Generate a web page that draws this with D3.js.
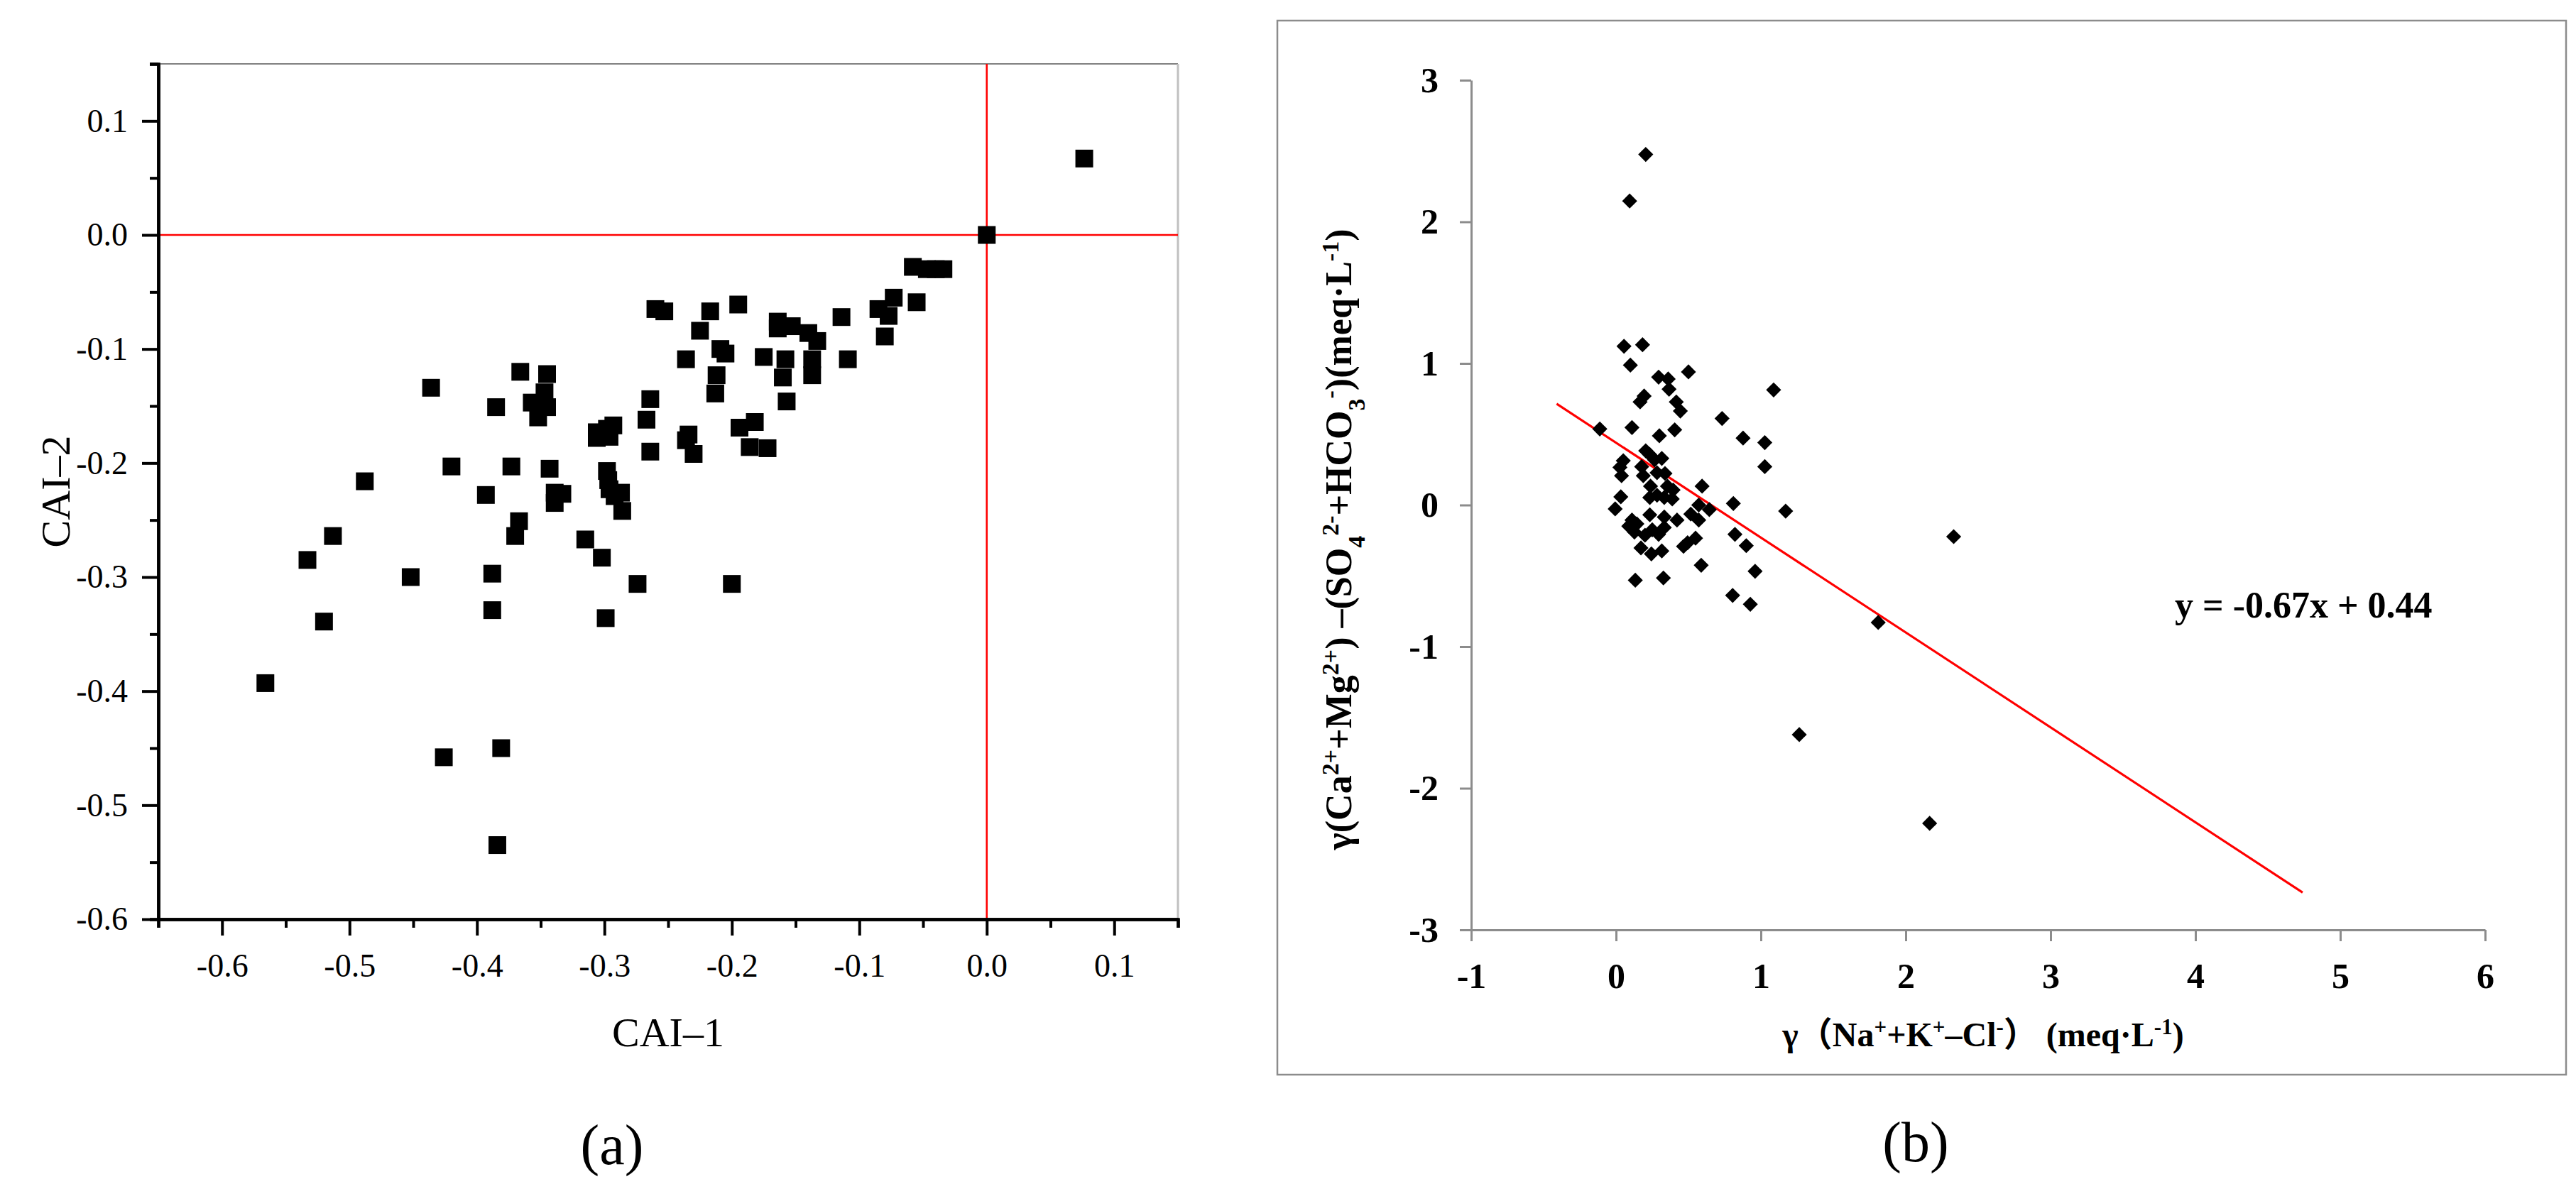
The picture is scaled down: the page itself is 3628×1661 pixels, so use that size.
<!DOCTYPE html>
<html>
<head>
<meta charset="utf-8">
<script src="https://cdn.jsdelivr.net/npm/d3@7"></script>
<style>
  html, body { margin: 0; padding: 0; background: #fff; }
  svg { display: block; }
</style>
</head>
<body>
<svg id="chart" width="3628" height="1661"></svg>
<script>
// ---------- Panel (a) data: CAI-1 vs CAI-2 ----------
const caiX = [0.0765, 0, -0.058, -0.047, -0.034, -0.040, -0.055, -0.073, -0.085, -0.077,
  -0.080, -0.114, -0.109, -0.137, -0.137, -0.133, -0.140, -0.153, -0.164, -0.164,
  -0.158, -0.160, -0.157, -0.175, -0.195, -0.217, -0.225, -0.209, -0.205, -0.236,
  -0.212, -0.213, -0.182, -0.194, -0.186, -0.172, -0.234, -0.236, -0.230, -0.260,
  -0.253, -0.264, -0.267, -0.264, -0.293, -0.298, -0.306, -0.306, -0.296, -0.298,
  -0.297, -0.296, -0.287, -0.292, -0.286, -0.315, -0.302, -0.274, -0.299, -0.200,
  -0.345, -0.366, -0.347, -0.357, -0.345, -0.352, -0.385, -0.436, -0.343, -0.373,
  -0.339, -0.333, -0.339, -0.367, -0.370, -0.393, -0.420, -0.488, -0.513, -0.533,
  -0.452, -0.388, -0.388, -0.520, -0.566, -0.426, -0.381, -0.384];
const caiY = [0.067, 0, -0.028, -0.030, -0.030, -0.030, -0.059, -0.055, -0.065, -0.071,
  -0.089, -0.072, -0.109, -0.109, -0.123, -0.093, -0.086, -0.080, -0.076, -0.082,
  -0.109, -0.125, -0.146, -0.107, -0.061, -0.067, -0.084, -0.100, -0.104, -0.109,
  -0.123, -0.139, -0.164, -0.169, -0.186, -0.187, -0.175, -0.180, -0.192, -0.065,
  -0.067, -0.144, -0.162, -0.190, -0.167, -0.170, -0.173, -0.178, -0.177, -0.207,
  -0.215, -0.223, -0.226, -0.229, -0.242, -0.267, -0.283, -0.306, -0.336, -0.306,
  -0.122, -0.120, -0.138, -0.147, -0.151, -0.160, -0.151, -0.134, -0.205, -0.203,
  -0.226, -0.227, -0.235, -0.251, -0.264, -0.228, -0.203, -0.216, -0.264, -0.285,
  -0.300, -0.297, -0.329, -0.339, -0.393, -0.458, -0.450, -0.535];
const caiXTicks = [-0.6, -0.5, -0.4, -0.3, -0.2, -0.1, 0.0, 0.1];
const caiXTickLabels = ["-0.6", "-0.5", "-0.4", "-0.3", "-0.2", "-0.1", "0.0", "0.1"];
const caiYTicks = [-0.6, -0.5, -0.4, -0.3, -0.2, -0.1, 0.0, 0.1];
const caiYTickLabels = ["-0.6", "-0.5", "-0.4", "-0.3", "-0.2", "-0.1", "0.0", "0.1"];
const caiXMinor = [-0.65, -0.55, -0.45, -0.35, -0.25, -0.15, -0.05, 0.05, 0.15];
const caiYMinor = [-0.55, -0.45, -0.35, -0.25, -0.15, -0.05, 0.05, 0.15];

// ---------- Panel (b) data ----------
const ionX = [0.205, 0.094, 0.055, 0.183, 0.099, 0.294, 0.360, 0.500, 0.366, 0.194,
  0.166, 0.416, 0.444, 1.088, 0.732, -0.112, 0.110, 0.299, 0.405, 0.877,
  1.027, 1.027, 0.205, 0.233, 0.266, 0.316, 0.050, 0.027, 0.038, 0.177,
  0.188, 0.283, 0.338, 0.355, 0.238, 0.394, 0.283, 0.233, 0.333, 0.388,
  0.594, 0.033, -0.006, 0.810, 0.644, 0.571, 0.516, 1.171, 0.233, 0.333,
  0.421, 0.571, 0.110, 0.144, 0.088, 0.127, 0.250, 0.294, 0.333, 0.200,
  0.549, 0.494, 0.466, 0.821, 0.899, 0.172, 0.244, 0.316, 0.960, 0.588,
  0.133, 0.327, 0.805, 0.927, 2.331, 1.810, 1.265, 2.165];
const ionY = [2.476, 2.147, 1.121, 1.132, 0.988, 0.903, 0.890, 0.940, 0.818, 0.770,
  0.728, 0.728, 0.664, 0.813, 0.611, 0.537, 0.547, 0.489, 0.531, 0.473,
  0.441, 0.271, 0.383, 0.356, 0.319, 0.329, 0.313, 0.266, 0.207, 0.271,
  0.207, 0.228, 0.223, 0.133, 0.133, 0.106, 0.069, 0.053, 0.053, 0.043,
  0.133, 0.058, -0.027, 0.011, -0.032, 0.000, -0.064, -0.043, -0.069, -0.085,
  -0.106, -0.106, -0.106, -0.133, -0.149, -0.191, -0.175, -0.207, -0.159, -0.213,
  -0.234, -0.266, -0.292, -0.207, -0.287, -0.303, -0.345, -0.324, -0.468, -0.425,
  -0.531, -0.515, -0.638, -0.701, -0.223, -0.829, -1.621, -2.248];
const ionXTicks = [-1, 0, 1, 2, 3, 4, 5, 6];
const ionXTickLabels = ["-1", "0", "1", "2", "3", "4", "5", "6"];
const ionYTicks = [-3, -2, -1, 0, 1, 2, 3];
const ionYTickLabels = ["-3", "-2", "-1", "0", "1", "2", "3"];
const fitSlope = -0.67;
const fitIntercept = 0.44;
const fitRange = [-0.41, 4.74];
const fitLabel = "y = -0.67x + 0.44";

// ---------- Drawing ----------
const svg = d3.select("#chart");
svg.append("rect").attr("width", 3628).attr("height", 1661).attr("fill", "#fff");

const SERIF = "'Liberation Serif', 'Times New Roman', 'DejaVu Serif', serif";

// ===== Panel (a) =====
const ax = d3.scaleLinear().domain([-0.65, 0.15]).range([223, 1659]);
const ay = d3.scaleLinear().domain([-0.6, 0.15]).range([1295, 90]);
const ga = svg.append("g");

ga.append("line").attr("x1", ax(-0.65)).attr("x2", ax(0.15)).attr("y1", ay(0.15)).attr("y2", ay(0.15))
  .attr("stroke", "#808080").attr("stroke-width", 2);
ga.append("line").attr("x1", ax(0.15)).attr("x2", ax(0.15)).attr("y1", ay(0.15)).attr("y2", ay(-0.6))
  .attr("stroke", "#c0c0c0").attr("stroke-width", 3);

ga.append("line").attr("x1", ax(-0.65)).attr("x2", ax(0.15)).attr("y1", ay(0)).attr("y2", ay(0))
  .attr("stroke", "#ff0000").attr("stroke-width", 2.6);
ga.append("line").attr("x1", ax(0)).attr("x2", ax(0)).attr("y1", ay(0.15)).attr("y2", ay(-0.6))
  .attr("stroke", "#ff0000").attr("stroke-width", 2.6);

const axMinor = ga.append("g").attr("transform", `translate(0,${ay(-0.6)})`)
  .call(d3.axisBottom(ax).tickValues(caiXMinor).tickSize(12).tickFormat(""));
const ayMinor = ga.append("g").attr("transform", `translate(${ax(-0.65)},0)`)
  .call(d3.axisLeft(ay).tickValues(caiYMinor).tickSize(12).tickFormat(""));
const axG = ga.append("g").attr("transform", `translate(0,${ay(-0.6)})`)
  .call(d3.axisBottom(ax).tickValues(caiXTicks).tickSize(23).tickSizeOuter(0).tickPadding(25)
    .tickFormat((d, i) => caiXTickLabels[i]));
const ayG = ga.append("g").attr("transform", `translate(${ax(-0.65)},0)`)
  .call(d3.axisLeft(ay).tickValues(caiYTicks).tickSize(23).tickSizeOuter(0).tickPadding(20)
    .tickFormat((d, i) => caiYTickLabels[i]));
[axMinor, ayMinor, axG, ayG].forEach(g => {
  g.attr("font-family", SERIF);
  g.selectAll("path.domain").attr("stroke", "#000").attr("stroke-width", 4.5);
  g.selectAll(".tick line").attr("stroke", "#000").attr("stroke-width", 4);
  g.selectAll("text").attr("font-family", SERIF).attr("font-size", 46).attr("fill", "#000");
});

ga.append("g").selectAll("path").data(caiX.map((x, i) => [x, caiY[i]])).join("path")
  .attr("d", d3.symbol(d3.symbolSquare, 625))
  .attr("transform", d => `translate(${ax(d[0])},${ay(d[1])})`)
  .attr("fill", "#000");

ga.append("text").attr("x", (ax(-0.65) + ax(0.15)) / 2).attr("y", 1474)
  .attr("text-anchor", "middle").attr("font-family", SERIF).attr("font-size", 58).text("CAI\u20131");
ga.append("text").attr("transform", `translate(98,${(ay(0.15) + ay(-0.6)) / 2}) rotate(-90)`)
  .attr("text-anchor", "middle").attr("font-family", SERIF).attr("font-size", 58).text("CAI\u20132");
ga.append("text").attr("x", 862).attr("y", 1640).attr("text-anchor", "middle")
  .attr("font-family", SERIF).attr("font-size", 80).text("(a)");

// ===== Panel (b) =====
const bx = d3.scaleLinear().domain([-1, 6]).range([2072, 3500]);
const by = d3.scaleLinear().domain([-3, 3]).range([1310, 113]);
const gb = svg.append("g");

gb.append("rect").attr("x", 1799).attr("y", 29).attr("width", 3614 - 1799).attr("height", 1514 - 29)
  .attr("fill", "none").attr("stroke", "#8c8c8c").attr("stroke-width", 2.5);

const bxG = gb.append("g").attr("transform", `translate(0,${by(-3)})`)
  .call(d3.axisBottom(bx).tickValues(ionXTicks).tickSize(16).tickSizeOuter(0).tickPadding(30)
    .tickFormat((d, i) => ionXTickLabels[i]));
const byG = gb.append("g").attr("transform", `translate(${bx(-1)},0)`)
  .call(d3.axisLeft(by).tickValues(ionYTicks).tickSize(16).tickSizeOuter(0).tickPadding(30)
    .tickFormat((d, i) => ionYTickLabels[i]));
[bxG, byG].forEach(g => {
  g.attr("font-family", SERIF);
  g.selectAll("path.domain").attr("stroke", "#8c8c8c").attr("stroke-width", 3);
  g.selectAll(".tick line").attr("stroke", "#8c8c8c").attr("stroke-width", 3);
  g.selectAll("text").attr("font-family", SERIF).attr("font-size", 50)
    .attr("font-weight", "bold").attr("fill", "#000");
});

gb.append("line")
  .attr("x1", bx(fitRange[0])).attr("y1", by(fitSlope * fitRange[0] + fitIntercept))
  .attr("x2", bx(fitRange[1])).attr("y2", by(fitSlope * fitRange[1] + fitIntercept))
  .attr("stroke", "#ff0000").attr("stroke-width", 3.2);

gb.append("g").selectAll("path").data(ionX.map((x, i) => [x, ionY[i]])).join("path")
  .attr("d", d3.symbol(d3.symbolSquare, 225))
  .attr("transform", d => `translate(${bx(d[0])},${by(d[1])}) rotate(45)`)
  .attr("fill", "#000");

gb.append("text").attr("x", 3063).attr("y", 870).attr("font-family", SERIF)
  .attr("font-size", 52).attr("font-weight", "bold").text(fitLabel);

const xt = gb.append("text").attr("x", 2793).attr("y", 1474).attr("text-anchor", "middle")
  .attr("font-family", SERIF + ", 'Noto Sans CJK SC'").attr("font-size", 48).attr("font-weight", "bold");
function addRuns(t, runs, sz) {
  runs.forEach(r => {
    const s = t.append("tspan").text(r[0]);
    if (r[1] === "sup") s.attr("baseline-shift", "super").attr("font-size", sz);
    if (r[1] === "sub") s.attr("baseline-shift", "sub").attr("font-size", sz);
  });
}
addRuns(xt, [["\u03b3\uff08Na"], ["+", "sup"], ["+K"], ["+", "sup"], ["\u2013Cl"], ["-", "sup"],
  ["\uff09 (meq\u00b7L"], ["-1", "sup"], [")"]], 31);

const yt = gb.append("text").attr("transform", `translate(1903,760) rotate(-90)`).attr("text-anchor", "middle")
  .attr("font-family", SERIF).attr("font-size", 52).attr("font-weight", "bold");
addRuns(yt, [["\u03b3(Ca"], ["2+", "sup"], ["+Mg"], ["2+", "sup"], [")  \u2013(SO"], ["4", "sub"], ["2-", "sup"],
  ["+HCO"], ["3", "sub"], ["-", "sup"], [")(meq\u00b7L"], ["-1", "sup"], [")"]], 34);

gb.append("text").attr("x", 2698).attr("y", 1636).attr("text-anchor", "middle")
  .attr("font-family", SERIF).attr("font-size", 80).text("(b)");
</script>
</body>
</html>
